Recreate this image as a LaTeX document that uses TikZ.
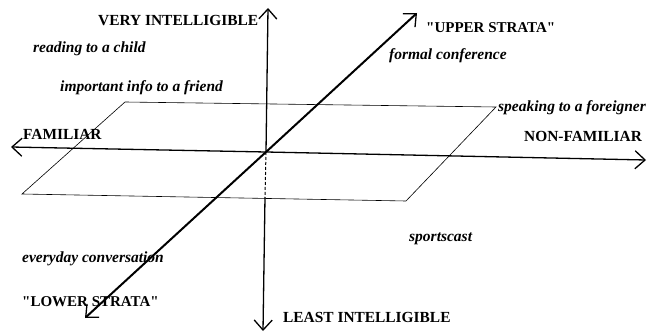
\documentclass[tikz,border=0pt]{standalone}
\usepackage{fontspec}
\setmainfont{Liberation Serif}[Ligatures=TeXOff]
\usetikzlibrary{arrows.meta}
\begin{document}
\begin{tikzpicture}[x=1pt,y=-1pt,
  axis/.style={line width=1.3pt,-{Straight Barb[length=10pt,width=18pt,line width=1.3pt]}},
  plane/.style={line width=0.6pt},
  caplbl/.style={inner sep=0pt,anchor=base west,font=\fontsize{15.4}{15.4}\selectfont\bfseries},
  quot/.style={inner sep=0pt,anchor=base west,font=\fontsize{15}{15}\selectfont\bfseries},
  ex/.style={inner sep=0pt,anchor=base west,font=\fontsize{15.5}{15.5}\selectfont\bfseries\itshape}]
\useasboundingbox (0,0) rectangle (656,334);
% plane
\coordinate (p1) at (125,102);
\coordinate (p2) at (496,107);
\coordinate (p3) at (406,201);
\coordinate (p4) at (22,194);
\draw[plane] (p1) -- (p2) -- (p3) -- (p4) -- cycle;
% axes
\coordinate (c) at (266,152);
\coordinate (vt) at (268,8);
\coordinate (vb) at (263,331);
\coordinate (vd) at (265,197);
\coordinate (hl) at (11,147);
\coordinate (hr) at (646,160);
\coordinate (dl) at (85,318);
\coordinate (dr) at (417,13);
\draw[axis] (c) -- (vt);
\draw[line width=1pt,dash pattern=on 3pt off 2pt] (c) -- (vd);
\draw[axis] (vd) -- (vb);
\draw[axis] (c) -- (hl);
\draw[axis] (c) -- (hr);
\draw[axis,line width=2pt] (c) -- (dr);
\draw[axis,line width=2pt] (c) -- (dl);
% labels
\node[caplbl] (vi) at (98,26) {VERY INTELLIGIBLE};
\node[caplbl] (li) at (283,322) {LEAST INTELLIGIBLE};
\node[caplbl] (fa) at (23,140) {FAMILIAR};
\node[caplbl] (nf) at (524,142) {NON-FAMILIAR};
\node[quot] (us) at (426,33) {"UPPER STRATA"};
\node[quot] (ls) at (22,306) {"LOWER STRATA"};
\node[ex] (rc) at (33,53) {reading to a child};
\node[ex] (ii) at (60,92) {important info to a friend};
\node[ex] (fc) at (389,60) {formal conference};
\node[ex] (sf) at (498,112) {speaking to a foreigner};
\node[ex] (sc) at (409,241) {sportscast};
\node[ex] (ec) at (22,262) {everyday conversation};
\end{tikzpicture}
\end{document}
